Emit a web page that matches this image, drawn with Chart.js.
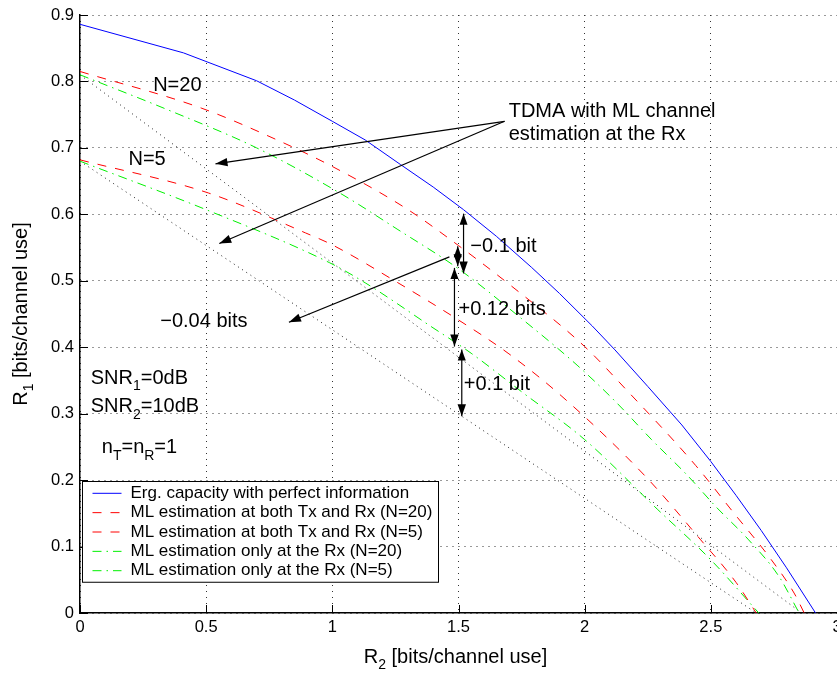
<!DOCTYPE html>
<html lang="en">
<head>
<meta charset="UTF-8">
<title>Rate region with ML channel estimation</title>
<script src="https://cdn.jsdelivr.net/npm/chart.js"></script>
<style>
  html, body { margin: 0; padding: 0; background: #fff; }
  #wrap { width: 837px; height: 673px; }
</style>
</head>
<body>
<div id="wrap"><canvas id="rateChart" width="837" height="673"></canvas></div>
<script>
// R2 / R1 pairs in bits/channel use
const capR2 = [0, 0.41, 0.70, 0.85, 1.00, 1.13, 1.27, 1.40, 1.52, 1.65, 1.79, 1.90, 2.03, 2.12, 2.25, 2.385, 2.50, 2.60, 2.70, 2.80, 2.915];
const capR1 = [0.886, 0.843, 0.801, 0.772, 0.740, 0.712, 0.675, 0.641, 0.607, 0.567, 0.520, 0.481, 0.432, 0.396, 0.341, 0.283, 0.228, 0.177, 0.124, 0.068, 0];

const txrx20R2 = [0, 0.48, 0.775, 1.00, 1.30, 1.50, 1.71, 2.00, 2.165, 2.44, 2.59, 2.74, 2.83, 2.87];
const txrx20R1 = [0.815, 0.760, 0.713, 0.672, 0.607, 0.553, 0.492, 0.401, 0.336, 0.222, 0.151, 0.080, 0.030, 0];

const txrx5R2 = [0, 0.51, 0.894, 1.00, 1.26, 1.50, 1.70, 1.91, 2.24, 2.46, 2.60, 2.68];
const txrx5R1 = [0.682, 0.632, 0.572, 0.554, 0.497, 0.441, 0.390, 0.326, 0.206, 0.110, 0.046, 0];

const rx20R2 = [0, 0.35, 0.70, 1.03, 1.26, 1.50, 1.75, 1.97, 2.12, 2.265, 2.41, 2.52, 2.65, 2.77, 2.85];
const rx20R1 = [0.810, 0.757, 0.700, 0.632, 0.577, 0.518, 0.443, 0.373, 0.319, 0.261, 0.206, 0.160, 0.110, 0.055, 0];

const rx5R2 = [0, 0.50, 0.99, 1.13, 1.39, 1.55, 1.75, 2.00, 2.29, 2.50, 2.69];
const rx5R1 = [0.680, 0.607, 0.527, 0.497, 0.4315, 0.391, 0.333, 0.261, 0.1555, 0.080, 0];

// TDMA with ML estimation at the Rx (straight time-sharing lines)
const tdma20R2 = [0, 2.86];
const tdma20R1 = [0.81, 0];
const tdma5R2 = [0, 2.68];
const tdma5R1 = [0.68, 0];

const xTicks = [0, 0.5, 1, 1.5, 2, 2.5, 3];
const yTicks = [0, 0.1, 0.2, 0.3, 0.4, 0.5, 0.6, 0.7, 0.8, 0.9];

const FONT = '"Liberation Sans", Arial, Helvetica, sans-serif';

function pts(xs, ys) {
  return xs.map((x, i) => ({ x: x, y: ys[i] }));
}

function curve(label, xs, ys, color, dash, smooth, inLegend) {
  return {
    label: label,
    data: pts(xs, ys),
    borderColor: color,
    backgroundColor: color,
    borderWidth: 1,
    borderDash: dash,
    pointRadius: 0,
    showLine: true,
    cubicInterpolationMode: smooth ? 'monotone' : 'default',
    tension: 0,
    inLegend: inLegend
  };
}

// draw text with subscripts, parts starting with "_" are subscripts
function richWidth(ctx, parts, size) {
  let w = 0;
  parts.forEach(p => {
    const sub = p[0] === '_';
    ctx.font = (sub ? size * 0.7 : size) + 'px ' + FONT;
    w += ctx.measureText(sub ? p.slice(1) : p).width;
  });
  return w;
}

function drawRich(ctx, parts, x, yBase, size) {
  let cx = x;
  parts.forEach(p => {
    const sub = p[0] === '_';
    const t = sub ? p.slice(1) : p;
    ctx.font = (sub ? size * 0.7 : size) + 'px ' + FONT;
    ctx.fillText(t, cx, sub ? yBase + size * 0.32 : yBase);
    cx += ctx.measureText(t).width;
  });
}

function head(ctx, x1, y1, x2, y2, len, half) {
  const ang = Math.atan2(y2 - y1, x2 - x1);
  const c = Math.cos(ang), s = Math.sin(ang);
  ctx.beginPath();
  ctx.moveTo(x2, y2);
  ctx.lineTo(x2 - len * c - half * s, y2 - len * s + half * c);
  ctx.lineTo(x2 - len * c + half * s, y2 - len * s - half * c);
  ctx.closePath();
  ctx.fill();
}

function arrow(ctx, x1, y1, x2, y2, both) {
  ctx.beginPath();
  ctx.moveTo(x1, y1);
  ctx.lineTo(x2, y2);
  ctx.stroke();
  head(ctx, x1, y1, x2, y2, 12, 4.2);
  if (both) head(ctx, x2, y2, x1, y1, 11, 4);
}

function tickText(v) {
  return String(Number(v.toFixed(2)));
}

const decor = {
  id: 'decor',
  afterDraw(chart) {
    const { ctx, chartArea: a, scales } = chart;
    const X = v => scales.x.getPixelForValue(v);
    const Y = v => scales.y.getPixelForValue(v);

    ctx.save();
    ctx.strokeStyle = '#000';
    ctx.fillStyle = '#000';
    ctx.lineWidth = 1;

    // inward tick marks
    ctx.beginPath();
    yTicks.forEach(v => {
      const y = Math.round(Y(v)) + 0.5;
      ctx.moveTo(a.left, y);
      ctx.lineTo(a.left + 8, y);
    });
    xTicks.forEach(v => {
      const x = Math.round(X(v)) + 0.5;
      ctx.moveTo(x, a.bottom);
      ctx.lineTo(x, a.bottom - 8);
    });
    ctx.stroke();

    // axis titles
    const tsize = 20;
    const xt = ['R', '_2', ' [bits/channel use]'];
    const xw = richWidth(ctx, xt, tsize);
    ctx.textBaseline = 'alphabetic';
    ctx.textAlign = 'left';
    drawRich(ctx, xt, (a.left + a.right) / 2 - 3 - xw / 2, 663, tsize);

    const yt = ['R', '_1', ' [bits/channel use]'];
    const yw = richWidth(ctx, yt, tsize);
    ctx.save();
    ctx.translate(27, (a.top + a.bottom) / 2);
    ctx.rotate(-Math.PI / 2);
    drawRich(ctx, yt, -yw / 2, 0, tsize);
    ctx.restore();

    // labels inside the plot
    const notes = [
      { x: 0.290, y: 0.797, parts: ['N=20'] },
      { x: 0.192, y: 0.685, parts: ['N=5'] },
      { x: 1.699, y: 0.758, parts: ['TDMA with ML channel'] },
      { x: 1.699, y: 0.7225, parts: ['estimation at the Rx'] },
      { x: 0.318, y: 0.4415, parts: ['\u22120.04 bits'] },
      { x: 1.547, y: 0.5545, parts: ['\u22120.1 bit'] },
      { x: 1.500, y: 0.459, parts: ['+0.12 bits'] },
      { x: 1.521, y: 0.347, parts: ['+0.1 bit'] },
      { x: 0.0425, y: 0.356, parts: ['SNR', '_1', '=0dB'] },
      { x: 0.0425, y: 0.313, parts: ['SNR', '_2', '=10dB'] },
      { x: 0.0863, y: 0.251, parts: ['n', '_T', '=n', '_R', '=1'] }
    ];
    notes.forEach(n => drawRich(ctx, n.parts, X(n.x), Y(n.y) + 7.2, 20));

    // arrows
    ctx.lineWidth = 1.2;
    arrow(ctx, X(1.6825), Y(0.740), X(0.537), Y(0.676), false);
    arrow(ctx, X(1.6825), Y(0.740), X(0.552), Y(0.556), false);
    arrow(ctx, X(1.464), Y(0.536), X(0.828), Y(0.4376), false);
    arrow(ctx, X(1.52), Y(0.601), X(1.52), Y(0.511), true);
    arrow(ctx, X(1.497), Y(0.552), X(1.497), Y(0.522), true);
    arrow(ctx, X(1.484), Y(0.5194), X(1.484), Y(0.401), true);
    arrow(ctx, X(1.513), Y(0.3964), X(1.513), Y(0.296), true);

    // legend box
    const items = chart.data.datasets.filter(d => d.inLegend);
    const bx = a.left + 2.5, by = 481.5, bw = 356, rowH = 19.35;
    const bh = items.length * rowH + 4;
    ctx.fillStyle = '#fff';
    ctx.fillRect(bx, by, bw, bh);
    ctx.lineWidth = 1;
    ctx.strokeStyle = '#000';
    ctx.setLineDash([]);
    ctx.strokeRect(bx, by, bw, bh);
    items.forEach((d, i) => {
      const cy = by + 11.8 + i * rowH;
      ctx.save();
      ctx.strokeStyle = d.borderColor;
      ctx.setLineDash(d.borderDash);
      ctx.beginPath();
      ctx.moveTo(bx + 10, cy);
      ctx.lineTo(bx + 39, cy);
      ctx.stroke();
      ctx.restore();
      ctx.fillStyle = '#000';
      ctx.font = '17px ' + FONT;
      ctx.textBaseline = 'middle';
      ctx.fillText(d.label, bx + 48, cy);
    });
    ctx.restore();
  }
};

new Chart(document.getElementById('rateChart'), {
  type: 'scatter',
  data: {
    datasets: [
      curve('Erg. capacity with perfect information', capR2, capR1, '#0000ff', [], false, true),
      curve('ML estimation at both Tx and Rx (N=20)', txrx20R2, txrx20R1, '#ff0000', [9, 9], true, true),
      curve('ML estimation at both Tx and Rx (N=5)', txrx5R2, txrx5R1, '#ff0000', [9, 9], true, true),
      curve('ML estimation only at the Rx (N=20)', rx20R2, rx20R1, '#00f000', [9, 5, 1.5, 5], true, true),
      curve('ML estimation only at the Rx (N=5)', rx5R2, rx5R1, '#00f000', [9, 5, 1.5, 5], true, true),
      curve('TDMA (N=20)', tdma20R2, tdma20R1, '#222222', [1, 4], false, false),
      curve('TDMA (N=5)', tdma5R2, tdma5R1, '#222222', [1, 4], false, false)
    ]
  },
  options: {
    responsive: false,
    animation: false,
    devicePixelRatio: 1,
    layout: { padding: { top: 15, right: 0, bottom: 0, left: 0 } },
    plugins: {
      legend: { display: false },
      tooltip: { enabled: false }
    },
    scales: {
      x: {
        type: 'linear',
        min: 0,
        max: 3,
        ticks: { stepSize: 0.5, padding: 5, color: '#000', font: { family: FONT, size: 16.5 }, callback: tickText },
        grid: { color: '#333', lineWidth: 1, drawTicks: false },
        border: { display: true, color: '#000', width: 1.5, dash: [1, 5] },
        afterFit(s) {
          s.height = 60;
          s.paddingLeft = 0;
          s.paddingRight = 0;
        }
      },
      y: {
        type: 'linear',
        min: 0,
        max: 0.9,
        ticks: { stepSize: 0.1, padding: 6, color: '#000', font: { family: FONT, size: 16.5 }, callback: tickText },
        grid: { color: '#333', lineWidth: 1, drawTicks: false },
        border: { display: true, color: '#000', width: 1.5, dash: [1, 5] },
        afterFit(s) {
          s.width = 80;
          s.paddingTop = 0;
          s.paddingBottom = 0;
        }
      }
    }
  },
  plugins: [decor]
});
</script>
</body>
</html>
